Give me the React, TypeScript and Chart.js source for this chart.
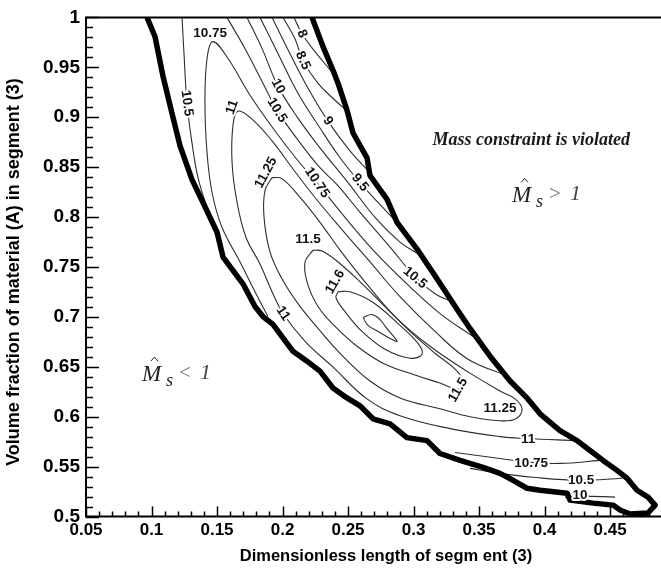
import { useEffect, useRef } from "react";
import { Chart, registerables } from "chart.js";

Chart.register(...registerables);

// ---- axes -------------------------------------------------------------
const xMin = 0.05;
const xMax = 0.4889;
const yMin = 0.5;
const yMax = 1.0;
const xTickValues = [0.05, 0.1, 0.15, 0.2, 0.25, 0.3, 0.35, 0.4, 0.45];
const yTickValues = [0.5, 0.55, 0.6, 0.65, 0.7, 0.75, 0.8, 0.85, 0.9, 0.95, 1];
const minorStep = 0.01;

const xTitle = "Dimensionless length of segm ent (3)";
const yTitle = "Volume fraction of material (A) in segment (3)";
const violatedText = "Mass constraint is violated";

// ---- feasible-region boundary (mass constraint M_s = 1) ---------------
const feasibleBoundary: [number, number][] = [
  [0.0966, 1.0], [0.1027, 0.9806], [0.1088, 0.9409], [0.1156, 0.9041],
  [0.1218, 0.8713], [0.1309, 0.8375], [0.1393, 0.8146], [0.15, 0.7848],
  [0.1546, 0.7599], [0.1698, 0.7331], [0.179, 0.7103], [0.1851, 0.7003],
  [0.1927, 0.6924], [0.208, 0.6655], [0.2187, 0.6556], [0.2286, 0.6456],
  [0.2385, 0.6287], [0.2492, 0.6188], [0.2592, 0.6108], [0.2691, 0.5979],
  [0.2821, 0.5929], [0.295, 0.579], [0.3103, 0.576], [0.3202, 0.5631],
  [0.3355, 0.5562], [0.3531, 0.5492], [0.366, 0.5432], [0.376, 0.5363],
  [0.3866, 0.5283], [0.3966, 0.5263], [0.4172, 0.5234], [0.4195, 0.5164],
  [0.437, 0.5134], [0.4523, 0.5114], [0.4576, 0.5065], [0.4653, 0.5025],
  [0.479, 0.5035], [0.4844, 0.5114], [0.479, 0.5194], [0.4706, 0.5263],
  [0.463, 0.5383], [0.4553, 0.5462], [0.4447, 0.5562], [0.4347, 0.5661],
  [0.4248, 0.576], [0.4118, 0.586], [0.3966, 0.6029], [0.3866, 0.6188],
  [0.3737, 0.6357], [0.3584, 0.6606], [0.3431, 0.6884], [0.3332, 0.7077],
  [0.3179, 0.7381], [0.3027, 0.7679], [0.2874, 0.7947], [0.2798, 0.8176],
  [0.2668, 0.8414], [0.2645, 0.8593], [0.2538, 0.8842], [0.2492, 0.9071],
  [0.2424, 0.9339], [0.2386, 0.9468], [0.2309, 0.9707], [0.2225, 1.0],
];

// ---- iso-lines of the objective ---------------------------------------
const contour8: [number, number][] = [
  [0.2088, 1.0], [0.2149, 0.9836], [0.2248, 0.9657], [0.2386, 0.9438],
];
const contour8_5: [number, number][] = [
  [0.2004, 1.0], [0.2095, 0.9786], [0.2156, 0.9568], [0.2271, 0.9339],
  [0.2401, 0.917], [0.2492, 0.9061],
];
const contour9: [number, number][] = [
  [0.192, 1.0], [0.2057, 0.9637], [0.2195, 0.929], [0.2347, 0.8961],
  [0.2515, 0.8663], [0.2668, 0.8444],
];
const contour9_5: [number, number][] = [
  [0.1828, 1.0], [0.1966, 0.9637], [0.2118, 0.924], [0.2286, 0.8892],
  [0.2439, 0.8594], [0.2592, 0.8345], [0.2729, 0.8146], [0.2859, 0.7967],
];
const contour10Upper: [number, number][] = [
  [0.1729, 1.0], [0.1844, 0.9687], [0.1966, 0.9309], [0.2118, 0.8991],
  [0.2286, 0.8693], [0.25, 0.8345], [0.2706, 0.7997], [0.2897, 0.7749],
  [0.305, 0.7619],
];
const contour10Lower: [number, number][] = [
  [0.4156, 0.5194], [0.4286, 0.5204], [0.4538, 0.5194],
];
const contour10_5Left: [number, number][] = [
  [0.1233, 1.0], [0.1248, 0.9637], [0.1271, 0.914], [0.1309, 0.8743],
  [0.1355, 0.8395], [0.1424, 0.8096], [0.1492, 0.7868], [0.1538, 0.7729],
];
const contour10_5Upper: [number, number][] = [
  [0.1576, 1.0], [0.1714, 0.9687], [0.1844, 0.9359], [0.1958, 0.9071],
  [0.2134, 0.8743], [0.2286, 0.8494], [0.2416, 0.8325], [0.2592, 0.8047],
  [0.2821, 0.7699], [0.3011, 0.7401], [0.3164, 0.7232], [0.3294, 0.7152],
];
const contour10_5Lower: [number, number][] = [
  [0.3431, 0.5482], [0.366, 0.5432], [0.3912, 0.5393], [0.4271, 0.5363],
  [0.4592, 0.5383],
];
const contour10_75Upper: [number, number][] = [
  [0.1889, 0.7003], [0.179, 0.7252], [0.1676, 0.755], [0.1538, 0.7897],
  [0.1462, 0.8246], [0.1424, 0.8643], [0.1408, 0.914], [0.1424, 0.9588],
  [0.1469, 0.9757], [0.1584, 0.9588], [0.1752, 0.922], [0.1943, 0.8862],
  [0.2118, 0.8564], [0.2263, 0.8345], [0.2477, 0.7997], [0.2706, 0.7649],
  [0.2973, 0.7301], [0.3202, 0.7033], [0.3454, 0.6804],
];
const contour10_75Lower: [number, number][] = [
  [0.3317, 0.5641], [0.3431, 0.5621], [0.366, 0.5581], [0.3889, 0.5542],
  [0.4118, 0.5532], [0.4424, 0.5562],
];
const contour11: [number, number][] = [
  [0.4233, 0.5761], [0.3866, 0.5781], [0.366, 0.58], [0.3279, 0.588],
  [0.2897, 0.6009], [0.2645, 0.6178], [0.2386, 0.6496], [0.2172, 0.6755],
  [0.2004, 0.7033], [0.192, 0.7252], [0.1828, 0.753], [0.1721, 0.7798],
  [0.1653, 0.8146], [0.1615, 0.8544], [0.1622, 0.8921], [0.166, 0.9061],
  [0.1767, 0.8981], [0.192, 0.8763], [0.2073, 0.8494], [0.2248, 0.8196],
  [0.2439, 0.7897], [0.2668, 0.755], [0.2897, 0.7202], [0.3164, 0.6854],
  [0.3416, 0.6576], [0.3698, 0.6417],
];
const contour11_25: [number, number][] = [
  [0.192, 0.8395], [0.1996, 0.8385], [0.2134, 0.8196], [0.2286, 0.7947],
  [0.2439, 0.7669], [0.263, 0.7351], [0.2859, 0.7003], [0.3126, 0.6705],
  [0.3431, 0.6436], [0.366, 0.6258], [0.3775, 0.6178], [0.3828, 0.6079],
  [0.3782, 0.5979], [0.366, 0.5959], [0.3431, 0.5999], [0.3202, 0.6079],
  [0.2897, 0.6188], [0.2668, 0.6357], [0.2439, 0.6635], [0.2271, 0.6884],
  [0.2118, 0.7132], [0.1996, 0.7381], [0.1905, 0.7649], [0.1859, 0.7997],
  [0.1866, 0.8265], [0.192, 0.8395],
];
const contour11_5: [number, number][] = [
  [0.2233, 0.7669], [0.2302, 0.7659], [0.2424, 0.755], [0.2592, 0.7351],
  [0.2782, 0.7103], [0.2973, 0.6854], [0.3164, 0.6635], [0.3317, 0.6476],
  [0.3378, 0.6357], [0.334, 0.6277], [0.3202, 0.6337], [0.3011, 0.6417],
  [0.2767, 0.6536], [0.2569, 0.6705], [0.2401, 0.6904], [0.2271, 0.7103],
  [0.2187, 0.7351], [0.2172, 0.755], [0.2233, 0.7669],
];
const contour11_6: [number, number][] = [
  [0.2424, 0.7252], [0.2515, 0.7252], [0.2683, 0.7152], [0.2882, 0.6933],
  [0.3034, 0.6735], [0.3065, 0.6625], [0.2973, 0.6586], [0.2782, 0.6675],
  [0.2607, 0.6854], [0.2477, 0.7053], [0.2408, 0.7192], [0.2424, 0.7252],
];
const contour11_7: [number, number][] = [
  [0.2615, 0.6993], [0.2683, 0.7023], [0.2744, 0.6973], [0.279, 0.6894],
  [0.2874, 0.6755], [0.2821, 0.6784], [0.2729, 0.6854], [0.2653, 0.6914],
  [0.2615, 0.6993],
];

const contourPaths: { level: number; points: [number, number][] }[] = [
  { level: 8, points: contour8 },
  { level: 8.5, points: contour8_5 },
  { level: 9, points: contour9 },
  { level: 9.5, points: contour9_5 },
  { level: 10, points: contour10Upper },
  { level: 10, points: contour10Lower },
  { level: 10.5, points: contour10_5Left },
  { level: 10.5, points: contour10_5Upper },
  { level: 10.5, points: contour10_5Lower },
  { level: 10.75, points: contour10_75Upper },
  { level: 10.75, points: contour10_75Lower },
  { level: 11, points: contour11 },
  { level: 11.25, points: contour11_25 },
  { level: 11.5, points: contour11_5 },
  { level: 11.6, points: contour11_6 },
  { level: 11.7, points: contour11_7 },
];

// in-line level labels: level, anchor (data units), text angle (deg)
const contourLabels: { level: number; x: number; y: number; angle: number }[] = [
  { level: 10.75, x: 0.1447, y: 0.9836, angle: 0 },
  { level: 10.5, x: 0.1271, y: 0.914, angle: 82 },
  { level: 11, x: 0.1615, y: 0.91, angle: -70 },
  { level: 8, x: 0.2149, y: 0.9836, angle: 65 },
  { level: 8.5, x: 0.2156, y: 0.9568, angle: 65 },
  { level: 10, x: 0.1966, y: 0.9309, angle: 62 },
  { level: 10.5, x: 0.1958, y: 0.9071, angle: 58 },
  { level: 9, x: 0.2347, y: 0.8961, angle: 56 },
  { level: 9.5, x: 0.2592, y: 0.8345, angle: 52 },
  { level: 10.75, x: 0.2263, y: 0.8345, angle: 56 },
  { level: 11.25, x: 0.1874, y: 0.8444, angle: -62 },
  { level: 11.5, x: 0.2195, y: 0.7778, angle: 0 },
  { level: 11.6, x: 0.2401, y: 0.7351, angle: -60 },
  { level: 10.5, x: 0.3011, y: 0.7391, angle: 40 },
  { level: 11, x: 0.2004, y: 0.7033, angle: 55 },
  { level: 11.5, x: 0.334, y: 0.6267, angle: -60 },
  { level: 11.25, x: 0.366, y: 0.6089, angle: 0 },
  { level: 11, x: 0.3874, y: 0.5771, angle: 0 },
  { level: 10.75, x: 0.3897, y: 0.5532, angle: 0 },
  { level: 10.5, x: 0.4279, y: 0.5363, angle: 0 },
  { level: 10, x: 0.4271, y: 0.5214, angle: 0 },
];

// region annotations (data units)
const violatedAnchor = { x: 0.3144, y: 0.8723 };
const aboveAnchor = { x: 0.3752, y: 0.8146, op: ">" };
const belowAnchor = { x: 0.0927, y: 0.6357, op: "<" };

const SANS = '"Liberation Sans", Arial, sans-serif';
const SERIF = '"Liberation Serif", "Times New Roman", serif';

const toXY = (pts: [number, number][]) => pts.map(([x, y]) => ({ x, y }));
const fmt = (v: number) => String(Math.round(v * 100) / 100);

const overlay = {
  id: "overlay",
  afterDatasetsDraw(chart: any) {
    const ctx: CanvasRenderingContext2D = chart.ctx;
    const xs = chart.scales.x;
    const ys = chart.scales.y;
    ctx.save();
    ctx.font = `bold 13.5px ${SANS}`;
    ctx.textAlign = "center";
    ctx.textBaseline = "middle";
    ctx.lineJoin = "round";
    for (const lb of contourLabels) {
      const text = String(lb.level);
      const px = xs.getPixelForValue(lb.x);
      const py = ys.getPixelForValue(lb.y);
      ctx.save();
      ctx.translate(px, py);
      ctx.rotate((lb.angle * Math.PI) / 180);
      ctx.lineWidth = 4;
      ctx.strokeStyle = "#ffffff";
      ctx.strokeText(text, 0, 0);
      ctx.fillStyle = "#111111";
      ctx.fillText(text, 0, 0);
      ctx.restore();
    }
    ctx.restore();
  },
  afterDraw(chart: any) {
    const ctx: CanvasRenderingContext2D = chart.ctx;
    const xs = chart.scales.x;
    const ys = chart.scales.y;
    const { left, right, top, bottom } = chart.chartArea;
    ctx.save();

    // frame: left, bottom and top edges
    ctx.strokeStyle = "#000";
    ctx.lineWidth = 2;
    ctx.beginPath();
    ctx.moveTo(right, top);
    ctx.lineTo(left, top);
    ctx.lineTo(left, bottom);
    ctx.lineTo(right, bottom);
    ctx.stroke();

    // inward tick marks
    ctx.lineWidth = 1.5;
    ctx.beginPath();
    const nx = Math.round((xMax - xMin) / minorStep);
    for (let i = 0; i <= nx; i++) {
      const v = xMin + i * minorStep;
      const major = i % 5 === 0;
      const px = Math.round(xs.getPixelForValue(v)) + 0.5;
      ctx.moveTo(px, bottom);
      ctx.lineTo(px, bottom - (major ? 10 : 5));
    }
    const ny = Math.round((yMax - yMin) / minorStep);
    for (let i = 0; i <= ny; i++) {
      const v = yMin + i * minorStep;
      const major = i % 5 === 0;
      const py = Math.round(ys.getPixelForValue(v)) + 0.5;
      ctx.moveTo(left, py);
      ctx.lineTo(left + (major ? 13 : 7), py);
    }
    ctx.stroke();

    // axis titles
    ctx.fillStyle = "#000";
    ctx.textAlign = "center";
    ctx.textBaseline = "middle";
    ctx.font = `bold 16.5px ${SANS}`;
    ctx.fillText(xTitle, 386, 556);
    ctx.save();
    ctx.translate(14, 272);
    ctx.rotate(-Math.PI / 2);
    ctx.font = `bold 18px ${SANS}`;
    ctx.fillText(yTitle, 0, 0);
    ctx.restore();

    // region notes
    ctx.textAlign = "left";
    ctx.textBaseline = "alphabetic";
    ctx.font = `italic bold 18px ${SERIF}`;
    ctx.fillStyle = "#1a1a1a";
    ctx.fillText(violatedText, xs.getPixelForValue(violatedAnchor.x), ys.getPixelForValue(violatedAnchor.y));

    const drawMs = (a: { x: number; y: number; op: string }) => {
      const mx = xs.getPixelForValue(a.x);
      const by = ys.getPixelForValue(a.y);
      ctx.fillStyle = "#222";
      ctx.font = `italic 23px ${SERIF}`;
      ctx.fillText("M", mx, by);
      ctx.strokeStyle = "#222";
      ctx.lineWidth = 1;
      ctx.beginPath();
      ctx.moveTo(mx + 9, by - 20);
      ctx.lineTo(mx + 12.5, by - 24);
      ctx.lineTo(mx + 16, by - 20);
      ctx.stroke();
      ctx.font = `italic 18px ${SERIF}`;
      ctx.fillText("s", mx + 24, by + 5);
      ctx.fillStyle = "#777";
      ctx.font = `21px ${SERIF}`;
      ctx.fillText(a.op, mx + 37, by - 2);
      ctx.fillStyle = "#444";
      ctx.font = `italic 22px ${SERIF}`;
      ctx.fillText("1", mx + 58, by - 2);
    };
    drawMs(aboveAnchor);
    drawMs(belowAnchor);

    ctx.restore();
  },
};

export default function App() {
  const canvasRef = useRef<HTMLCanvasElement | null>(null);

  useEffect(() => {
    const canvas = canvasRef.current;
    if (!canvas) return;

    const datasets: any[] = [
      {
        label: "boundary",
        data: toXY(feasibleBoundary),
        showLine: true,
        borderColor: "#000",
        borderWidth: 5.5,
        borderJoinStyle: "round",
        pointRadius: 0,
        tension: 0,
        order: 0,
      },
      ...contourPaths.map((c) => ({
        label: String(c.level),
        data: toXY(c.points),
        showLine: true,
        borderColor: "#2e2e2e",
        borderWidth: 1.1,
        pointRadius: 0,
        tension: 0.4,
        order: 1,
      })),
    ];

    const chart = new Chart(canvas, {
      type: "scatter",
      data: { datasets },
      options: {
        animation: false,
        responsive: false,
        devicePixelRatio: 1,
        events: [],
        layout: { padding: { top: 13.5, right: 0, bottom: 0, left: 0 } },
        plugins: { legend: { display: false }, tooltip: { enabled: false } },
        scales: {
          x: {
            type: "linear",
            min: xMin,
            max: xMax,
            grid: { display: false, drawTicks: false },
            border: { display: false },
            afterBuildTicks: (s: any) => {
              s.ticks = xTickValues.map((v) => ({ value: v }));
            },
            afterFit: (s: any) => {
              s.height = 59.5;
            },
            ticks: {
              font: { family: SANS, size: 17, weight: "bold" },
              color: "#000",
              padding: 4,
              maxRotation: 0,
              autoSkip: false,
              callback: (v: any) => fmt(Number(v)),
            },
          },
          y: {
            type: "linear",
            min: yMin,
            max: yMax,
            grid: { display: false, drawTicks: false },
            border: { display: false },
            afterBuildTicks: (s: any) => {
              s.ticks = yTickValues.map((v) => ({ value: v }));
            },
            afterFit: (s: any) => {
              s.width = 86;
            },
            ticks: {
              font: { family: SANS, size: 19, weight: "bold" },
              color: "#000",
              padding: 6,
              autoSkip: false,
              callback: (v: any) => fmt(Number(v)),
            },
          },
        },
      },
      plugins: [overlay],
    });

    return () => chart.destroy();
  }, []);

  return (
    <div style={{ position: "absolute", left: 0, top: 0, width: 661, height: 576, background: "#fff" }}>
      <canvas ref={canvasRef} width={661} height={576} />
    </div>
  );
}
